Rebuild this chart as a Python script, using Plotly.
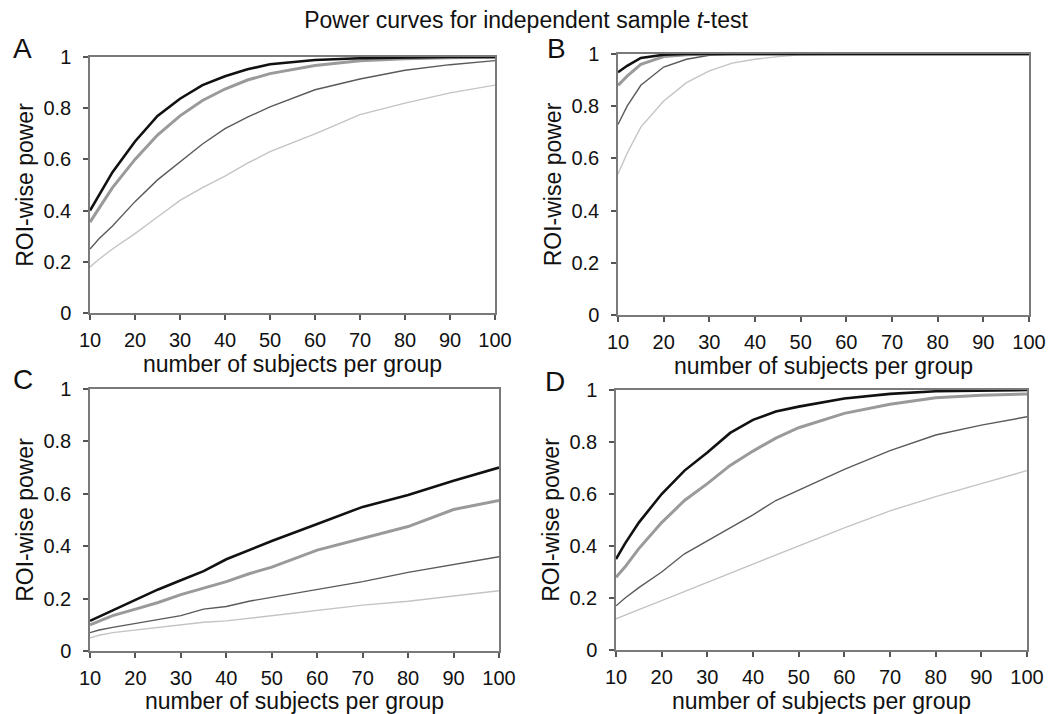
import plotly.graph_objects as go

# number of subjects per group (sampled points along each curve)
n_subjects = [10, 12, 15, 20, 25, 30, 35, 40, 45, 50, 60, 70, 80, 90, 100]

# Panel A
A_black = [0.40, 0.46, 0.55, 0.67, 0.77, 0.837, 0.89, 0.925, 0.952, 0.972, 0.988, 0.995, 0.998, 1.0, 1.0]
A_grey  = [0.355, 0.41, 0.49, 0.60, 0.695, 0.77, 0.83, 0.875, 0.91, 0.935, 0.967, 0.985, 0.993, 0.997, 0.999]
A_dark  = [0.25, 0.29, 0.34, 0.435, 0.52, 0.59, 0.66, 0.72, 0.765, 0.805, 0.872, 0.914, 0.948, 0.97, 0.986]
A_light = [0.18, 0.21, 0.25, 0.31, 0.375, 0.44, 0.49, 0.535, 0.585, 0.63, 0.70, 0.775, 0.82, 0.86, 0.89]

# Panel B
B_black = [0.93, 0.955, 0.985, 0.997, 1.0, 1.0, 1.0, 1.0, 1.0, 1.0, 1.0, 1.0, 1.0, 1.0, 1.0]
B_grey  = [0.88, 0.915, 0.96, 0.99, 0.997, 1.0, 1.0, 1.0, 1.0, 1.0, 1.0, 1.0, 1.0, 1.0, 1.0]
B_dark  = [0.73, 0.80, 0.88, 0.95, 0.98, 0.995, 0.999, 1.0, 1.0, 1.0, 1.0, 1.0, 1.0, 1.0, 1.0]
B_light = [0.54, 0.62, 0.72, 0.82, 0.89, 0.935, 0.965, 0.98, 0.99, 0.997, 1.0, 1.0, 1.0, 1.0, 1.0]

# Panel C
C_black = [0.115, 0.13, 0.155, 0.195, 0.235, 0.27, 0.305, 0.35, 0.385, 0.42, 0.485, 0.55, 0.595, 0.65, 0.70]
C_grey  = [0.10, 0.115, 0.135, 0.16, 0.185, 0.215, 0.24, 0.265, 0.295, 0.32, 0.385, 0.43, 0.475, 0.54, 0.575]
C_dark  = [0.07, 0.08, 0.09, 0.105, 0.12, 0.135, 0.16, 0.17, 0.19, 0.205, 0.235, 0.265, 0.30, 0.33, 0.36]
C_light = [0.05, 0.06, 0.07, 0.08, 0.09, 0.10, 0.11, 0.115, 0.125, 0.135, 0.155, 0.175, 0.19, 0.21, 0.23]

# Panel D
D_black = [0.35, 0.41, 0.49, 0.60, 0.69, 0.76, 0.835, 0.885, 0.917, 0.936, 0.967, 0.985, 0.995, 0.998, 1.0]
D_grey  = [0.28, 0.32, 0.39, 0.49, 0.575, 0.64, 0.71, 0.765, 0.815, 0.855, 0.91, 0.945, 0.97, 0.98, 0.985]
D_dark  = [0.17, 0.20, 0.24, 0.30, 0.37, 0.42, 0.47, 0.52, 0.575, 0.615, 0.695, 0.767, 0.827, 0.865, 0.897]
D_light = [0.12, 0.135, 0.155, 0.19, 0.225, 0.26, 0.295, 0.33, 0.365, 0.40, 0.47, 0.535, 0.59, 0.64, 0.69]

panels = [
    ("A", [A_light, A_dark, A_grey, A_black]),
    ("B", [B_light, B_dark, B_grey, B_black]),
    ("C", [C_light, C_dark, C_grey, C_black]),
    ("D", [D_light, D_dark, D_grey, D_black]),
]

styles = [
    dict(color="#c4c4c4", width=1.4),
    dict(color="#5a5a5a", width=1.4),
    dict(color="#9a9a9a", width=3.0),
    dict(color="#111111", width=2.6),
]

W, H = 1052, 714
# plot-area pixel boxes (left, right, top, bottom)
boxes = [(90, 495, 57, 313), (618, 1029, 54, 315), (90, 499, 389, 651), (616, 1027, 390, 650)]
# panel letter centres (pixels)
letter_pos = [(22, 49), (556, 49), (23, 379), (555, 381)]

FONT = "Liberation Sans, Arial, Helvetica, sans-serif"
fig = go.Figure()

for i, ((label, series), (l, r, t, b), (lx, ly)) in enumerate(zip(panels, boxes, letter_pos)):
    k = "" if i == 0 else str(i + 1)
    for ys, st in zip(series, styles):
        fig.add_trace(go.Scatter(x=n_subjects, y=ys, mode="lines", line=st,
                                 xaxis="x" + k, yaxis="y" + k, showlegend=False,
                                 hoverinfo="x+y"))
    axcommon = dict(showgrid=False, zeroline=False, showline=True, mirror=True,
                    automargin=False,
                    linecolor="#7a7a7a", linewidth=1.5, ticks="outside", ticklen=5,
                    tickwidth=1.5, tickcolor="#555555",
                    tickfont=dict(family=FONT, size=20, color="#111111"))
    fig.update_layout(**{
        "xaxis" + k: dict(domain=[l / W, r / W], anchor="y" + k, range=[10, 100],
                          tick0=10, dtick=10, ticklabelstandoff=3,
                          title=dict(text="number of subjects per group", standoff=5,
                                     font=dict(family=FONT, size=23, color="#111111")),
                          **axcommon),
        "yaxis" + k: dict(domain=[1 - b / H, 1 - t / H], anchor="x" + k, range=[0, 1],
                          tick0=0, dtick=0.2, ticklabelstandoff=8,
                          title=dict(text="ROI-wise power", standoff=3,
                                     font=dict(family=FONT, size=23, color="#111111")),
                          **axcommon),
    })
    fig.add_annotation(text=label, xref="paper", yref="paper",
                       x=lx / W, y=1 - ly / H, xanchor="center", yanchor="middle",
                       showarrow=False, font=dict(family=FONT, size=28, color="#111111"))

fig.update_layout(
    template="none",
    width=W, height=H,
    margin=dict(l=0, r=0, t=0, b=0, autoexpand=False),
    paper_bgcolor="white", plot_bgcolor="white",
    title=dict(text="Power curves for independent sample <i>t</i>-test",
               x=0.5, xanchor="center", y=1 - 20 / H, yanchor="middle", automargin=False,
               font=dict(family=FONT, size=23, color="#111111")),
)

fig.write_html(
    "out.html",
    config={"displayModeBar": False},
    post_script="document.body.style.margin='0';document.documentElement.style.overflow='hidden';",
)
